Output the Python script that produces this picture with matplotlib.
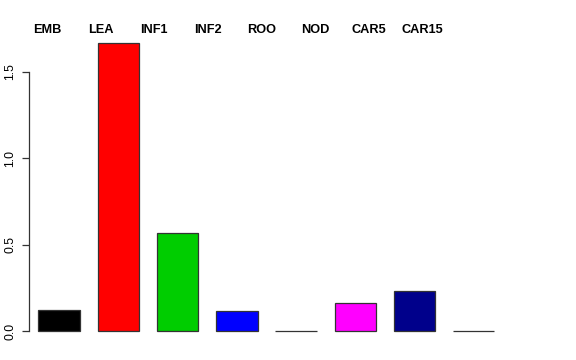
import matplotlib
matplotlib.use("Agg")
import matplotlib.pyplot as plt

# 各组织的数值
tissues = ["EMB", "LEA", "INF1", "INF2", "ROO", "NOD", "CAR5", "CAR15"]
values = [0.122, 1.666, 0.566, 0.118, 0.0, 0.164, 0.233, 0.0]
colors = ["#000000", "#FF0000", "#00CD00", "#0000FF", "#00FFFF", "#FF00FF", "#00008B", "#BEBEBE"]
yticks = [0.0, 0.5, 1.0, 1.5]

W, H = 576, 360
fig = plt.figure(figsize=(W / 100, H / 100), dpi=100)
plt.rcParams["font.family"] = ["Liberation Sans", "DejaVu Sans"]

# 绘图区：像素位置按 R barplot 默认边距换算
unit = 42.3
left, right = 29, 515
bottom, top = 360 - 342.5, 360 - 31.4
ax = fig.add_axes([left / W, bottom / H, (right - left) / W, (top - bottom) / H])

# R barplot: width=1, space=0.4
xs = [0.4 + 1.4 * i + 0.5 for i in range(len(values))]
ax.bar(xs, values, width=0.98, color=colors, edgecolor="#333333", linewidth=0.9)

ax.set_xlim(0.4 - (38 - left) / unit, 0.4 + (right - 38) / unit)
ax.set_ylim(-0.0667, 1.735)

for s in ["top", "right", "bottom"]:
    ax.spines[s].set_visible(False)
ax.spines["left"].set_bounds(0, 1.5)
ax.spines["left"].set_color("#333333")
ax.spines["left"].set_linewidth(0.9)
ax.set_xticks([])
ax.set_yticks(yticks)
ax.set_yticklabels([f"{t:.1f}" for t in yticks], rotation=90, va="center", fontsize=8.8)
ax.tick_params(axis="y", length=5, width=0.9, color="#333333", pad=4)

# 顶部组织名称
for i, name in enumerate(tissues):
    fig.text((47 + i * 53.6) / W, 1 - 30 / H, name, ha="center", va="center",
             fontsize=9.2, fontweight="bold")

fig.savefig("out.png", dpi=100)
